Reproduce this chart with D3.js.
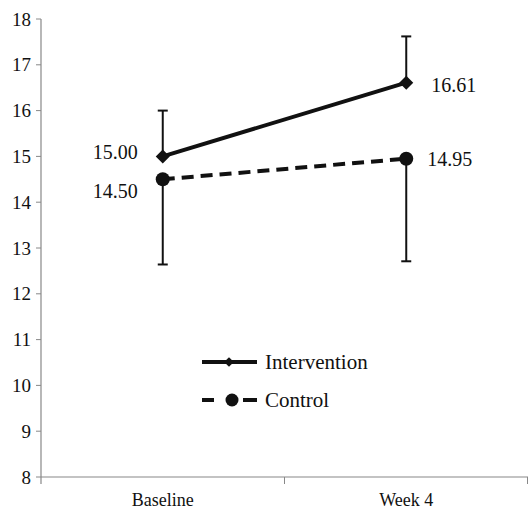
<!DOCTYPE html>
<html>
<head>
<meta charset="UTF-8">
<script src="https://cdn.jsdelivr.net/npm/d3@7"></script>
</head>
<body style="margin:0">
<svg id="chart" width="528" height="513"></svg>
<script>
// Данные
const timepoints = ['Baseline', 'Week 4'];
const interventionMeans = [15.00, 16.61];
const interventionSD = [1.00, 1.01];   // верхние усы
const controlMeans = [14.50, 14.95];
const controlSD = [1.86, 2.24];        // нижние усы
const yTicks = [8, 9, 10, 11, 12, 13, 14, 15, 16, 17, 18];

const svg = d3.select('#chart');
const plotLeft = 41, plotRight = 528, plotTop = 19, plotBottom = 477;

const x = d3.scalePoint().domain(timepoints).range([plotLeft, plotRight]).padding(0.5);
const xBand = d3.scaleBand().domain(timepoints).range([plotLeft, plotRight]);
const y = d3.scaleLinear().domain([8, 18]).range([plotBottom, plotTop]);

function addText(parent, xv, yv, txt, size, anchor) {
  return parent.append('text')
    .attr('x', xv).attr('y', yv).attr('dy', '0.35em')
    .attr('font-family', '"Liberation Serif", monospace')
    .attr('font-size', size)
    .attr('text-anchor', anchor)
    .attr('fill', '#111')
    .text(txt);
}

// Ось Y (вручную, чтобы шрифт не перебивался)
svg.append('line').attr('x1', plotLeft).attr('x2', plotLeft).attr('y1', plotTop).attr('y2', plotBottom + 7)
  .attr('stroke', '#888').attr('stroke-width', 1.2);
yTicks.forEach(t => {
  svg.append('line').attr('x1', plotLeft - 5).attr('x2', plotLeft).attr('y1', y(t)).attr('y2', y(t))
    .attr('stroke', '#888');
  addText(svg, plotLeft - 10, y(t), String(t), 19, 'end');
});

// Ось X
svg.append('line').attr('x1', plotLeft).attr('x2', plotRight).attr('y1', plotBottom).attr('y2', plotBottom)
  .attr('stroke', '#888').attr('stroke-width', 1.2);
[xBand('Week 4'), plotRight - 0.5].forEach(v => {
  svg.append('line').attr('x1', v).attr('x2', v).attr('y1', plotBottom).attr('y2', plotBottom + 7)
    .attr('stroke', '#888');
});
timepoints.forEach(t => addText(svg, x(t), plotBottom + 23, t, 18, 'middle'));

// Усы ошибок
function errBar(xv, y1, y2) {
  svg.append('line').attr('x1', xv).attr('x2', xv).attr('y1', y(y1)).attr('y2', y(y2))
    .attr('stroke', '#111').attr('stroke-width', 2);
  svg.append('line').attr('x1', xv - 5).attr('x2', xv + 5).attr('y1', y(y2)).attr('y2', y(y2))
    .attr('stroke', '#111').attr('stroke-width', 2);
}
timepoints.forEach((t, i) => {
  errBar(x(t), interventionMeans[i], interventionMeans[i] + interventionSD[i]);
  errBar(x(t), controlMeans[i], controlMeans[i] - controlSD[i]);
});

const line = d3.line().x((d, i) => x(timepoints[i])).y(d => y(d));

// Линии
svg.append('path').datum(interventionMeans).attr('d', line)
  .attr('fill', 'none').attr('stroke', '#111').attr('stroke-width', 4);
svg.append('path').datum(controlMeans).attr('d', line)
  .attr('fill', 'none').attr('stroke', '#111').attr('stroke-width', 4)
  .attr('stroke-dasharray', '12,7');

// Маркеры
const diamond = d3.symbol().type(d3.symbolDiamond2).size(125);
svg.selectAll('.mk-int').data(interventionMeans).enter().append('path')
  .attr('d', diamond)
  .attr('transform', (d, i) => `translate(${x(timepoints[i])},${y(d)})`)
  .attr('fill', '#111');
svg.selectAll('.mk-ctl').data(controlMeans).enter().append('circle')
  .attr('cx', (d, i) => x(timepoints[i])).attr('cy', d => y(d)).attr('r', 7)
  .attr('fill', '#111');

// Подписи значений
addText(svg, x('Baseline') - 25, y(interventionMeans[0]) - 4, interventionMeans[0].toFixed(2), 20, 'end');
addText(svg, x('Baseline') - 25, y(controlMeans[0]) + 12, controlMeans[0].toFixed(2), 20, 'end');
addText(svg, x('Week 4') + 25, y(interventionMeans[1]) + 2, interventionMeans[1].toFixed(2), 20, 'start');
addText(svg, x('Week 4') + 21, y(controlMeans[1]), controlMeans[1].toFixed(2), 20, 'start');

// Легенда
const legend = [
  { name: 'Intervention', dash: null, mark: 'diamond', yv: 362, mx: 229 },
  { name: 'Control', dash: '12,29,14', mark: 'circle', yv: 400, mx: 232 }
];
legend.forEach(l => {
  const g = svg.append('g').attr('transform', `translate(0,${l.yv})`);
  g.append('line').attr('x1', 202).attr('x2', 257).attr('stroke', '#111').attr('stroke-width', 4)
    .attr('stroke-dasharray', l.dash);
  if (l.mark === 'diamond') {
    g.append('path').attr('d', d3.symbol().type(d3.symbolDiamond2).size(60))
      .attr('transform', `translate(${l.mx},0)`).attr('fill', '#111');
  } else {
    g.append('circle').attr('cx', l.mx).attr('cy', 0).attr('r', 6.5).attr('fill', '#111');
  }
  addText(g, 265, 0, l.name, 21, 'start');
});
</script>
</body>
</html>
